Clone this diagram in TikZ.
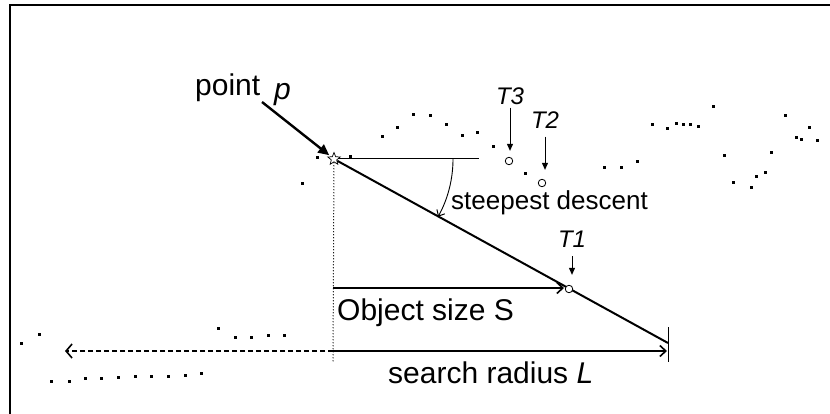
\documentclass[tikz,border=0pt]{standalone}
\usepackage{fontspec}
\setmainfont{Liberation Sans}
\usetikzlibrary{arrows.meta,shapes.geometric}
\begin{document}
\begin{tikzpicture}[x=1pt,y=-1pt,
  lbl/.style={inner sep=0pt, anchor=base west, font=\fontsize{30}{34}\selectfont},
  sdlbl/.style={inner sep=0pt, anchor=base west, font=\fontsize{26}{30}\selectfont},
  tlbl/.style={inner sep=0pt, font=\fontsize{24}{28}\selectfont\itshape},
  tcirc/.style={circle, draw, fill=white, minimum size=7.5pt, inner sep=0pt, line width=0.8pt},
  tarrow/.style={line width=1pt, -{Triangle[length=7pt,width=6pt]}},
  mainln/.style={line width=2pt},
  dimarrow/.style={line width=2pt, -{Straight Barb[length=6pt,width=11pt,line width=1.6pt]}},
  dotsq/.style={fill=black}
]
\useasboundingbox (0,0) rectangle (830,414);
% frame
\draw[line width=1.6pt] (10,414) -- (10,5) -- (830,5);

% point p
\node[star, star points=5, star point ratio=2.3, draw, fill=white, minimum size=13pt, inner sep=0pt, line width=0.7pt] (p) at (334,159) {};
\node[lbl] (pt) at (195,96) {point};
\node[lbl, font=\fontsize{30}{34}\selectfont\itshape] (pp) at (274,100) {p};
\coordinate (pstart) at (262,102);
\draw[line width=2.4pt, -{Triangle[length=11pt,width=10pt]}, shorten >=2pt] (pstart) -- (p);

% horizontal reference and steepest descent line
\coordinate (hz) at (479,159);
\coordinate (Lend) at (668,343);
\draw[line width=1pt] (p) -- (hz);
\draw[mainln] (p) -- (Lend);
\coordinate (arcstart) at (453,159);
\draw[line width=0.9pt, -{Straight Barb[length=5pt,width=9pt,line width=1pt]}] (arcstart) arc[start angle=0, end angle=29, radius=119];
\node[sdlbl] (sd) at (451,210) {steepest descent};

% T points
\node[tcirc] (t3) at (509,161) {};
\node[tcirc] (t2) at (542,183) {};
\node[tcirc] (t1) at (569,289) {};
\node[tlbl] (l3) at (510,96) {T3};
\node[tlbl] (l2) at (545,120) {T2};
\node[tlbl] (l1) at (572,239) {T1};
\draw[tarrow, shorten <=3pt, shorten >=6pt] (l3) -- (l3 |- t3.north);
\draw[tarrow, shorten <=8pt, shorten >=9pt] (l2) -- (l2 |- t2.north);
\draw[tarrow, shorten <=9pt, shorten >=10pt] (l1) -- (l1 |- t1.north);

% dimension lines
\coordinate (dv) at (333,363);
\draw[line width=1pt, dotted] (p) -- (dv);
\coordinate (os0) at (333,288);
\coordinate (os1) at (564,288);
\draw[dimarrow] (os0) -- (os1);
\node[lbl] (ostxt) at (337,320) {Object size S};
\coordinate (sr0) at (333,351);
\coordinate (sr1) at (667,351);
\draw[dimarrow] (sr0) -- (sr1);
\coordinate (tk0) at (668,327);
\coordinate (tk1) at (668,362);
\draw[line width=1pt] (tk0) -- (tk1);
\node[lbl] (srtxt) at (388,383) {search radius \textit{L}};
\coordinate (dl) at (65,351);
\draw[line width=1.6pt, dash pattern=on 5pt off 3pt, -{Straight Barb[length=6pt,width=14pt,line width=1.6pt]}] (sr0) -- (dl);

% scattered points
\foreach \x/\y in {382/137,397/128,413/115,430/116,446/125,462/136,477/133,493/147,525/174,
  317/158,350/157,302/184,604/168,621/168,637/162,652/125,667/129,676/124,683/125,690/125,698/127,
  713/107,724/156,733/183,751/188,756/177,765/173,771/153,785/116,796/138,801/140,809/128,817/141,
  21/343,39/334,218/328,235/337,251/337,268/335,284/335,
  51/381,69/381,85/378,101/378,118/377,135/376,151/376,168/376,185/375,201/373}
  \fill[dotsq] (\x-1.5,\y-1.5) rectangle (\x+1.5,\y+1.5);
\end{tikzpicture}
\end{document}
